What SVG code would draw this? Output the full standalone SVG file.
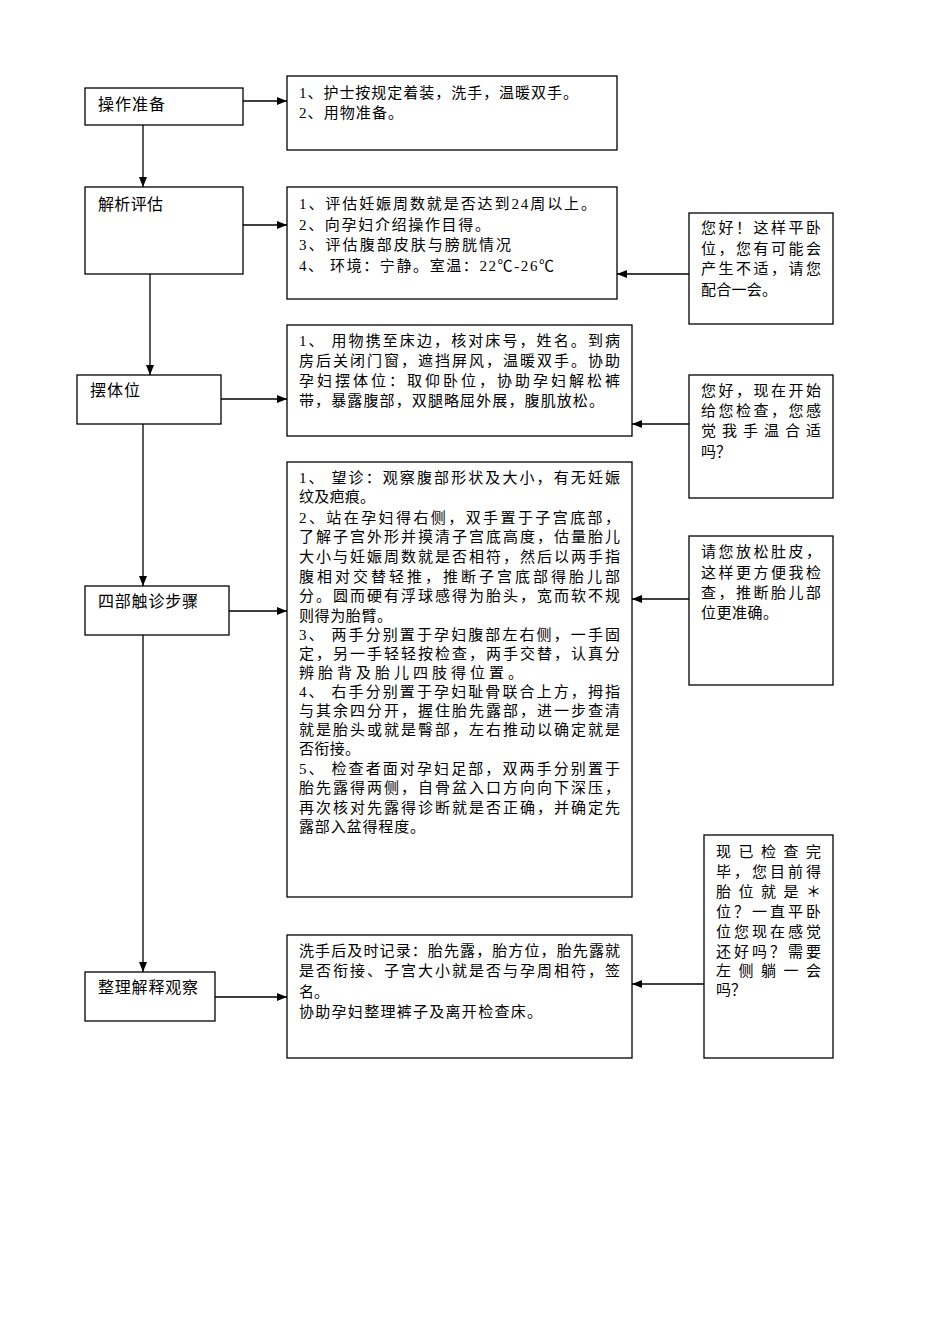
<svg xmlns="http://www.w3.org/2000/svg" width="950" height="1344" viewBox="0 0 950 1344">
<style>
rect{fill:#fff;stroke:#000;stroke-width:1.3}
text{font-family:"Liberation Serif","Noto Sans CJK SC",serif;font-size:15px;fill:#000}
.lbl{font-size:16px}
#connectors line{stroke:#000;stroke-width:1.3;marker-end:url(#ah)}
</style>
<defs>
<marker id="ah" markerUnits="userSpaceOnUse" markerWidth="10" markerHeight="8" refX="10" refY="4" orient="auto">
<path d="M0,0 L10,4 L0,8 z" fill="#000"/>
</marker>
</defs>
<rect x="0" y="0" width="950" height="1344" style="stroke:none"/>

<g id="connectors">
<line x1="243" y1="101" x2="287" y2="101"/>
<line x1="143" y1="125" x2="143" y2="187"/>
<line x1="243" y1="225" x2="287" y2="225"/>
<line x1="150" y1="274" x2="150" y2="375"/>
<line x1="689" y1="274" x2="617" y2="274"/>
<line x1="221" y1="399" x2="287" y2="399"/>
<line x1="689" y1="424" x2="632" y2="424"/>
<line x1="143" y1="424" x2="143" y2="586"/>
<line x1="229" y1="611" x2="287" y2="611"/>
<line x1="689" y1="599" x2="632" y2="599"/>
<line x1="143" y1="635" x2="143" y2="972"/>
<line x1="215" y1="997" x2="287" y2="997"/>
<line x1="704" y1="984" x2="632" y2="984"/>
</g>

<g id="n-prep">
<rect x="85" y="88" width="158" height="37"/>
<text class="lbl" x="98" y="110" textLength="67" lengthAdjust="spacing">操作准备</text>
</g>
<g id="d-prep">
<rect x="287" y="76" width="330" height="74"/>
<text x="299" y="98" textLength="279" lengthAdjust="spacing">1、护士按规定着装，洗手，温暖双手。</text>
<text x="299" y="118" textLength="104" lengthAdjust="spacing">2、用物准备。</text>
</g>

<g id="n-assess">
<rect x="85" y="187" width="158" height="87"/>
<text class="lbl" x="98" y="210" textLength="65" lengthAdjust="spacing">解析评估</text>
</g>
<g id="d-assess">
<rect x="287" y="187" width="330" height="112"/>
<text x="299" y="209" textLength="297" lengthAdjust="spacing">1、评估妊娠周数就是否达到24周以上。</text>
<text x="299" y="230" textLength="191" lengthAdjust="spacing">2、向孕妇介绍操作目得。</text>
<text x="299" y="250" textLength="212" lengthAdjust="spacing">3、评估腹部皮肤与膀胱情况</text>
<text x="299" y="271" textLength="255" lengthAdjust="spacing">4、 环境：宁静。室温：22℃-26℃</text>
</g>
<g id="s-assess">
<rect x="689" y="213" width="144" height="111"/>
<text x="701" y="233" textLength="120" lengthAdjust="spacing">您好！这样平卧</text>
<text x="701" y="254" textLength="120" lengthAdjust="spacing">位，您有可能会</text>
<text x="701" y="274" textLength="120" lengthAdjust="spacing">产生不适，请您</text>
<text x="701" y="295" textLength="76" lengthAdjust="spacing">配合一会。</text>
</g>

<g id="n-position">
<rect x="77" y="375" width="144" height="49"/>
<text class="lbl" x="90" y="396" textLength="50" lengthAdjust="spacing">摆体位</text>
</g>
<g id="d-position">
<rect x="287" y="325" width="345" height="111"/>
<text x="299" y="346" textLength="321" lengthAdjust="spacing">1、 用物携至床边，核对床号，姓名。到病</text>
<text x="299" y="366" textLength="321" lengthAdjust="spacing">房后关闭门窗，遮挡屏风，温暖双手。协助</text>
<text x="299" y="386" textLength="321" lengthAdjust="spacing">孕妇摆体位：取仰卧位，协助孕妇解松裤</text>
<text x="299" y="406" textLength="305" lengthAdjust="spacing">带，暴露腹部，双腿略屈外展，腹肌放松。</text>
</g>
<g id="s-position">
<rect x="689" y="375" width="144" height="123"/>
<text x="701" y="396" textLength="120" lengthAdjust="spacing">您好，现在开始</text>
<text x="701" y="416" textLength="120" lengthAdjust="spacing">给您检查，您感</text>
<text x="701" y="436" textLength="120" lengthAdjust="spacing">觉我手温合适</text>
<text x="701" y="457">吗？</text>
</g>

<g id="n-palpate">
<rect x="85" y="586" width="144" height="49"/>
<text class="lbl" x="98" y="607" textLength="100" lengthAdjust="spacing">四部触诊步骤</text>
</g>
<g id="d-palpate">
<rect x="287" y="462" width="345" height="435"/>
<text x="299" y="483" textLength="321" lengthAdjust="spacing">1、 望诊：观察腹部形状及大小，有无妊娠</text>
<text x="299" y="502" textLength="76" lengthAdjust="spacing">纹及疤痕。</text>
<text x="299" y="523" textLength="321" lengthAdjust="spacing">2、站在孕妇得右侧，双手置于子宫底部，</text>
<text x="299" y="542" textLength="321" lengthAdjust="spacing">了解子宫外形并摸清子宫底高度，估量胎儿</text>
<text x="299" y="562" textLength="321" lengthAdjust="spacing">大小与妊娠周数就是否相符，然后以两手指</text>
<text x="299" y="582" textLength="321" lengthAdjust="spacing">腹相对交替轻推，推断子宫底部得胎儿部</text>
<text x="299" y="601" textLength="321" lengthAdjust="spacing">分。圆而硬有浮球感得为胎头，宽而软不规</text>
<text x="299" y="621" textLength="93" lengthAdjust="spacing">则得为胎臂。</text>
<text x="299" y="640" textLength="321" lengthAdjust="spacing">3、 两手分别置于孕妇腹部左右侧，一手固</text>
<text x="299" y="659" textLength="321" lengthAdjust="spacing">定，另一手轻轻按检查，两手交替，认真分</text>
<text x="299" y="678" textLength="224" lengthAdjust="spacing">辨胎背及胎儿四肢得位置。</text>
<text x="299" y="697" textLength="321" lengthAdjust="spacing">4、 右手分别置于孕妇耻骨联合上方，拇指</text>
<text x="299" y="716" textLength="321" lengthAdjust="spacing">与其余四分开，握住胎先露部，进一步查清</text>
<text x="299" y="735" textLength="321" lengthAdjust="spacing">就是胎头或就是臀部，左右推动以确定就是</text>
<text x="299" y="754" textLength="61" lengthAdjust="spacing">否衔接。</text>
<text x="299" y="774" textLength="321" lengthAdjust="spacing">5、 检查者面对孕妇足部，双两手分别置于</text>
<text x="299" y="793" textLength="321" lengthAdjust="spacing">胎先露得两侧，自骨盆入口方向向下深压，</text>
<text x="299" y="813" textLength="321" lengthAdjust="spacing">再次核对先露得诊断就是否正确，并确定先</text>
<text x="299" y="832" textLength="126" lengthAdjust="spacing">露部入盆得程度。</text>
</g>
<g id="s-palpate">
<rect x="689" y="536" width="144" height="149"/>
<text x="701" y="557" textLength="120" lengthAdjust="spacing">请您放松肚皮，</text>
<text x="701" y="578" textLength="120" lengthAdjust="spacing">这样更方便我检</text>
<text x="701" y="598" textLength="120" lengthAdjust="spacing">查，推断胎儿部</text>
<text x="701" y="618" textLength="77" lengthAdjust="spacing">位更准确。</text>
</g>

<g id="n-finish">
<rect x="85" y="972" width="130" height="49"/>
<text class="lbl" x="98" y="993" textLength="100" lengthAdjust="spacing">整理解释观察</text>
</g>
<g id="d-finish">
<rect x="287" y="935" width="345" height="123"/>
<text x="299" y="956" textLength="321" lengthAdjust="spacing">洗手后及时记录：胎先露，胎方位，胎先露就</text>
<text x="299" y="976" textLength="321" lengthAdjust="spacing">是否衔接、子宫大小就是否与孕周相符，签</text>
<text x="299" y="997">名。</text>
<text x="299" y="1017" textLength="243" lengthAdjust="spacing">协助孕妇整理裤子及离开检查床。</text>
</g>
<g id="s-finish">
<rect x="704" y="835" width="129" height="223"/>
<text x="716" y="857" textLength="105" lengthAdjust="spacing">现已检查完</text>
<text x="716" y="877" textLength="105" lengthAdjust="spacing">毕，您目前得</text>
<text x="716" y="897" textLength="105" lengthAdjust="spacing">胎位就是＊</text>
<text x="716" y="917" textLength="105" lengthAdjust="spacing">位？一直平卧</text>
<text x="716" y="937" textLength="105" lengthAdjust="spacing">位您现在感觉</text>
<text x="716" y="957" textLength="105" lengthAdjust="spacing">还好吗？需要</text>
<text x="716" y="976" textLength="105" lengthAdjust="spacing">左侧躺一会</text>
<text x="716" y="995">吗？</text>
</g>
</svg>
